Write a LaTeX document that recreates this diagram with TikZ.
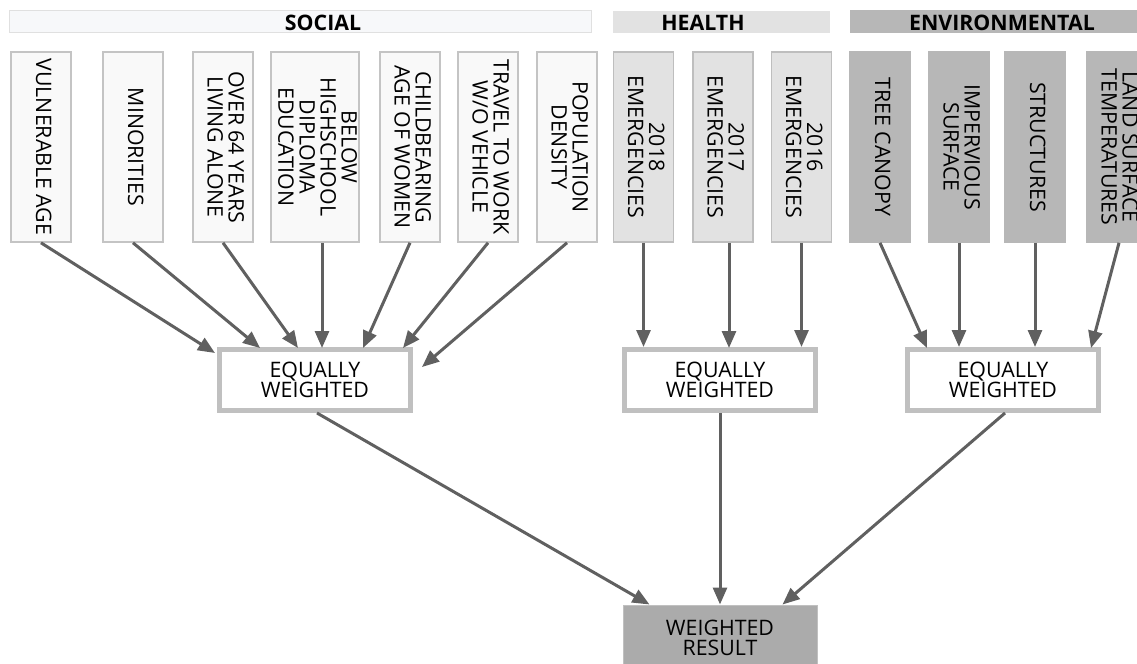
\documentclass[tikz,border=0pt]{standalone}
\usepackage{fontspec}
\setmainfont{Open Sans}
\usepackage{tikz}
\usetikzlibrary{arrows.meta,positioning,calc}
\definecolor{ArrowGray}{RGB}{96,96,96}
\definecolor{SocialFill}{RGB}{249,249,249}
\definecolor{SocialLine}{RGB}{196,196,196}
\definecolor{HealthFill}{RGB}{226,226,226}
\definecolor{HealthLine}{RGB}{190,190,190}
\definecolor{EnvFill}{RGB}{183,183,183}
\definecolor{FrameGray}{RGB}{192,192,192}
\definecolor{ResultFill}{RGB}{171,171,171}
\definecolor{BarSocial}{RGB}{247,248,250}
\definecolor{BarSocialLine}{RGB}{224,224,224}
\newcommand{\vtext}[1]{\rotatebox{-90}{\begin{tabular}{@{}c@{}}#1\end{tabular}}}

\begin{document}
\begin{tikzpicture}[x=0.75pt,y=-0.75pt,
    factor/.style={draw, line width=1.2pt, minimum width=45pt, minimum height=142.5pt, inner sep=0pt, font=\fontsize{16}{14}\selectfont},
    social/.style={factor, draw=SocialLine, fill=SocialFill},
    health/.style={factor, draw=HealthLine, fill=HealthFill},
    enviro/.style={factor, draw=EnvFill, fill=EnvFill},
    equal/.style={draw=FrameGray, line width=3.75pt, fill=white, minimum width=143.25pt, minimum height=45.75pt, align=center, inner sep=0pt, font=\fontsize{16}{14.25}\selectfont},
    result/.style={draw=FrameGray, line width=0.75pt, fill=ResultFill, minimum width=145.5pt, minimum height=48.75pt, align=center, inner sep=0pt, font=\fontsize{16}{15}\selectfont},
    title/.style={anchor=base, inner sep=0pt, font=\fontsize{16}{16}\selectfont\bfseries},
    arr/.style={-{Triangle[length=12.75pt,width=10.5pt]}, line width=2.25pt, draw=ArrowGray}]
  \useasboundingbox (0,0) rectangle (1137,663);
  \clip (0,0) rectangle (1137,663);

  % group bars
  \draw[BarSocialLine, fill=BarSocial, line width=0.75pt] (9,11) rectangle (591,33);
  \fill[HealthFill] (613,11) rectangle (830,33);
  \fill[EnvFill] (850,10) rectangle (1145,33);
  \node[title] (soc) at (323,31) {SOCIAL};
  \node[title] (hea) at (703,31) {HEALTH};
  \node[title] (env) at (1002,31) {ENVIRONMENTAL};

  % social factors
  \node[social] (va) at (41,147) {\vtext{VULNERABLE AGE}};
  \node[social] (mi) at (133,147) {\vtext{MINORITIES}};
  \node[social] (ov) at (223,147) {\vtext{OVER 64 YEARS\\LIVING ALONE}};
  \node[social, minimum width=66pt] (be) at (315,147) {\vtext{BELOW\\HIGHSCHOOL\\DIPLOMA\\EDUCATION}};
  \node[social] (ch) at (410,147) {\vtext{CHILDBEARING\\AGE OF WOMEN}};
  \node[social] (tr) at (488,147) {\vtext{TRAVEL TO WORK\\W/O VEHICLE}};
  \node[social] (po) at (567,147) {\vtext{POPULATION\\DENSITY}};

  % health factors
  \node[health] (e18) at (643.5,147) {\vtext{2018\\EMERGENCIES}};
  \node[health] (e17) at (723,147) {\vtext{2017\\EMERGENCIES}};
  \node[health] (e16) at (801.5,147) {\vtext{2016\\EMERGENCIES}};

  % environmental factors
  \node[enviro] (tc) at (880,147) {\vtext{TREE CANOPY}};
  \node[enviro] (im) at (959,147) {\vtext{IMPERVIOUS\\SURFACE}};
  \node[enviro] (st) at (1035,147) {\vtext{STRUCTURES}};
  \node[enviro] (ls) at (1117,147) {\vtext{LAND SURFACE\\TEMPERATURES}};

  % weighting
  \node[equal] (sew) at (315,380) {EQUALLY\\WEIGHTED};
  \node[equal] (hew) at (720,380) {EQUALLY\\WEIGHTED};
  \node[equal] (eew) at (1003,380) {EQUALLY\\WEIGHTED};
  \node[result] (res) at (720,637.5) {WEIGHTED\\RESULT};

  \draw[arr] (va.south) -- ($(sew.north west)+(-2,6)$);
  \draw[arr] (mi.south) -- ($(sew.north west)+(43,1)$);
  \draw[arr] (ov.south) -- ($(sew.north west)+(81,1)$);
  \draw[arr] ($(be.south)+(7,0)$) -- ($(sew.north west)+(105,1)$);
  \draw[arr] (ch.south) -- ($(sew.north west)+(146,1)$);
  \draw[arr] (tr.south) -- ($(sew.north west)+(186,1)$);
  \draw[arr] (po.south) -- ($(sew.north east)+(9,20)$);

  \draw[arr] (e18.south) -- (e18.south |- hew.north);
  \draw[arr] ($(e17.south)+(6,0)$) -- ($(hew.north)+(9,1)$);
  \draw[arr] (e16.south) -- (e16.south |- hew.north);

  \draw[arr] (tc.south) -- ($(eew.north west)+(22,1)$);
  \draw[arr] (im.south) -- (im.south |- eew.north);
  \draw[arr] (st.south) -- (st.south |- eew.north);
  \draw[arr] ($(ls.south)+(2,0)$) -- ($(eew.north east)+(-10,1)$);

  \draw[arr] ($(sew.south)+(2,0)$) -- ($(res.north west)+(27,0)$);
  \draw[arr] (hew.south) -- (res.north);
  \draw[arr] ($(eew.south)+(2,0)$) -- ($(res.north east)+(-35,0)$);
\end{tikzpicture}
\end{document}
